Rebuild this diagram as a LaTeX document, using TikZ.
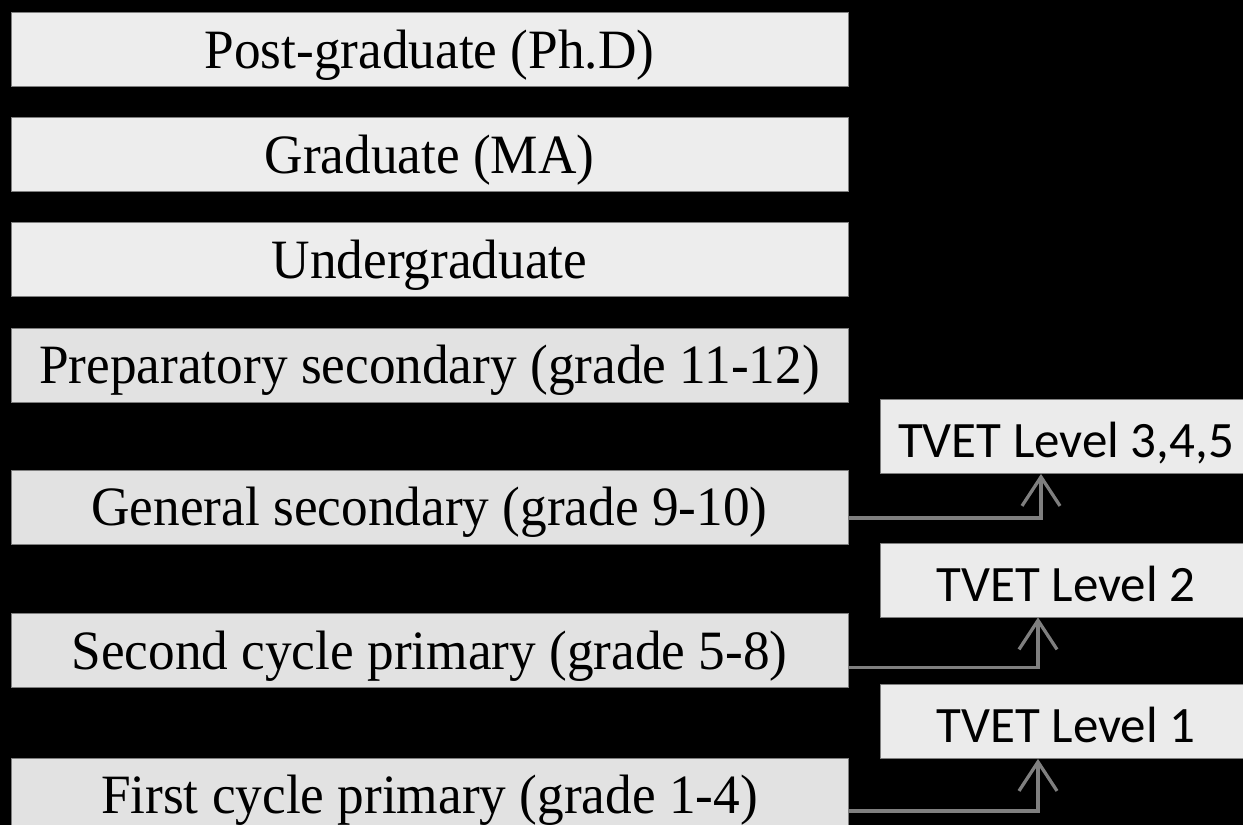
\documentclass[tikz,border=0pt]{standalone}
\usepackage{fontspec}
\setmainfont{Liberation Serif}[FakeStretch=0.96]
\newfontfamily\tvetfont{Carlito}
\usetikzlibrary{arrows.meta}
\definecolor{boxhi}{HTML}{EDEDED}
\definecolor{boxlo}{HTML}{E2E2E2}
\definecolor{tvetfill}{HTML}{EBEBEB}
\definecolor{linegray}{HTML}{7F7F7F}
\begin{document}
\begin{tikzpicture}[x=1pt,y=-1pt,
  lvl/.style={draw=linegray,line width=0.8pt,minimum width=837pt,minimum height=74pt,
    inner sep=0pt,text height=37pt,text depth=0pt,font=\fontsize{55.5}{60}\selectfont},
  tvet/.style={draw=linegray,line width=0.8pt,fill=tvetfill,minimum width=372pt,
    minimum height=74pt,inner sep=0pt,text height=42pt,text depth=0pt,
    font=\tvetfont\fontsize{51}{60}\selectfont},
  tvarrow/.style={draw=linegray,line width=3.3pt,-{Straight Barb[length=29pt,width=38pt]}}]%
% coordinates are pixels of the 1243x825 original, y grows downwards
\useasboundingbox (0,0) rectangle (1243,825);
\clip (0,0) rectangle (1243,825);
\fill[black] (0,0) rectangle (1243,825);
\node[lvl,fill=boxhi] (phd) at (429.5,49.5) {Post-graduate (Ph.D)};
\node[lvl,fill=boxhi] (ma) at (429.5,154.5) {Graduate (MA)};
\node[lvl,fill=boxhi] (ug) at (429.5,259.5) {Undergraduate};
\node[lvl,fill=boxlo] (prep) at (429.5,365) {Preparatory secondary (grade 11-12)};
\node[lvl,fill=boxlo] (gsec) at (429.5,507) {General secondary (grade 9-10)};
\node[lvl,fill=boxlo] (scp) at (429.5,650.5) {Second cycle primary (grade 5-8)};
\node[lvl,fill=boxlo] (fcp) at (429.5,795) {First cycle primary (grade 1-4)};
\node[tvet] (t345) at (1066,436.5) {TVET Level 3,4,5};
\node[tvet] (t2) at (1066,580) {TVET Level 2};
\node[tvet] (t1) at (1066,721.5) {TVET Level 1};
\draw[tvarrow] ([yshift=-11pt]gsec.east) -| ([xshift=-25pt]t345.south);
\draw[tvarrow] ([yshift=-17pt]scp.east) -| ([xshift=-28pt]t2.south);
\draw[tvarrow] ([yshift=-16pt]fcp.east) -| ([xshift=-28pt]t1.south);
\end{tikzpicture}
\end{document}
